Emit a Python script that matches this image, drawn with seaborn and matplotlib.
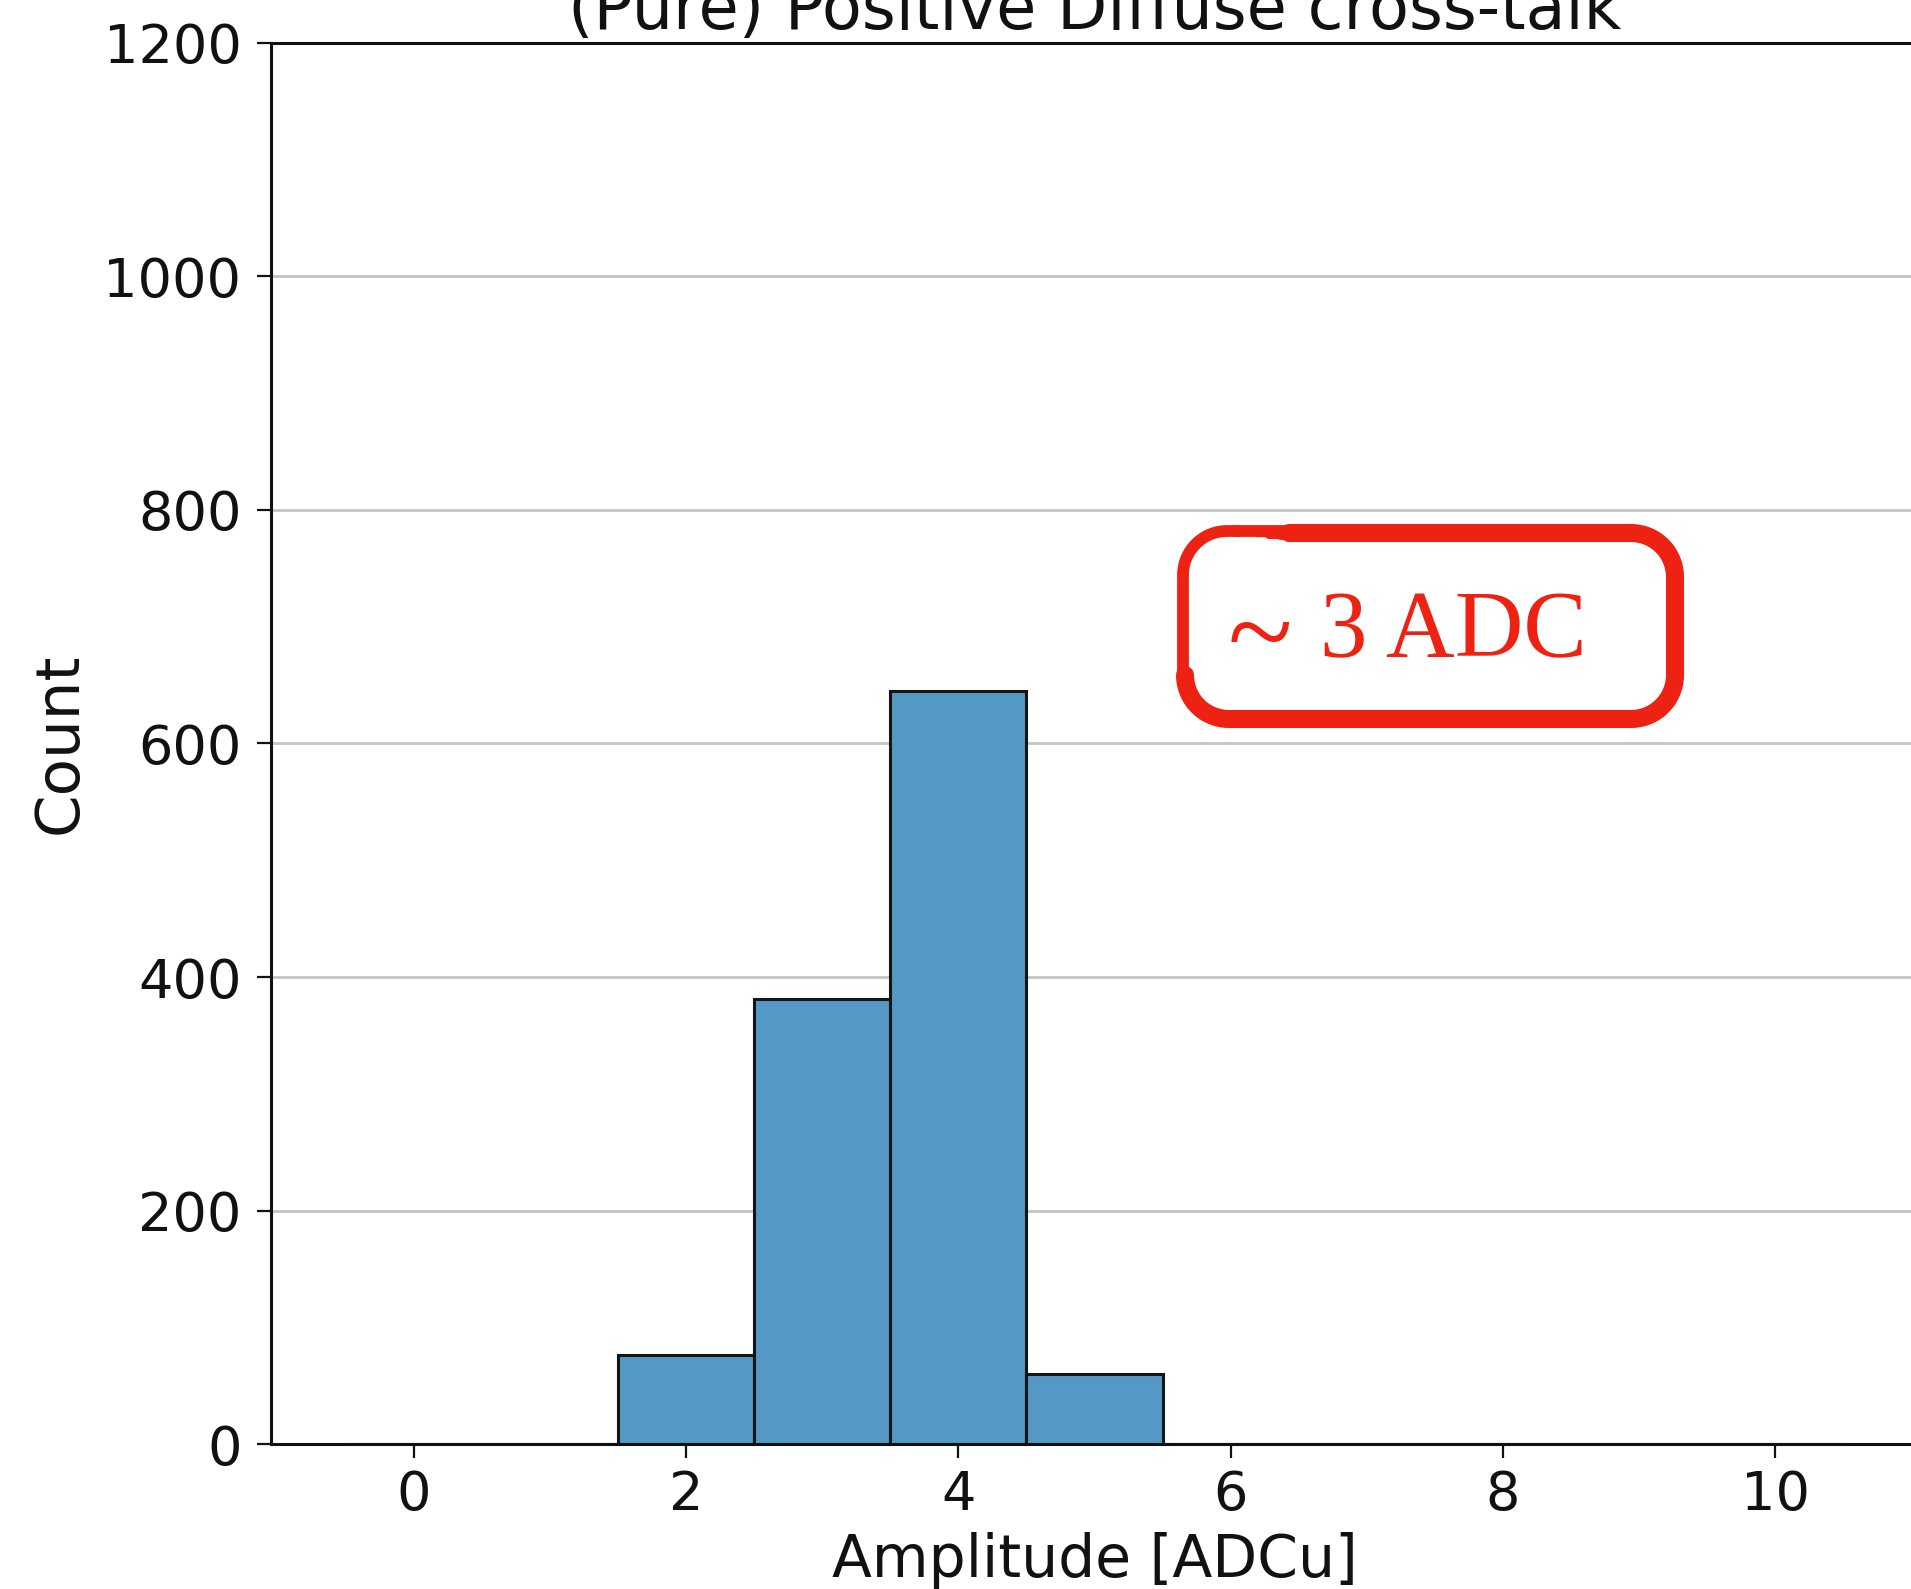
import numpy as np
import matplotlib
matplotlib.use("Agg")
import matplotlib.pyplot as plt
from matplotlib.lines import Line2D
import seaborn as sns

# Histogram of pure positive diffuse cross-talk amplitudes (one bin per ADC unit)
amplitude_bins = [0, 1, 2, 3, 4, 5, 6, 7, 8, 9, 10]
bin_counts = [0, 0, 76, 381, 645, 60, 0, 0, 0, 0, 0]
x_ticks = [0, 2, 4, 6, 8, 10]
y_ticks = [0, 200, 400, 600, 800, 1000, 1200]
title_text = "(Pure) Positive Diffuse cross-talk"
x_label = "Amplitude [ADCu]"
y_label = "Count"
note_text = "3 ADC"

W, H, DPI = 1911, 1589, 100
fig = plt.figure(figsize=(W / DPI, H / DPI), dpi=DPI)
fig.patch.set_facecolor("white")

# axes placed in pixel terms (left, top, right, bottom)
L, T, R, B = 270.6, 42.7, 1918.3, 1444.2
ax = fig.add_axes([L / W, 1 - B / H, (R - L) / W, (B - T) / H])

sns.histplot(x=amplitude_bins, weights=bin_counts, discrete=True, ax=ax,
             color="#5499c5", alpha=1.0, edgecolor="#151515", linewidth=2.2)

ax.set_xlim(-1.05, 11.05)
ax.set_ylim(0, 1200)
ax.set_xticks(x_ticks)
ax.set_yticks(y_ticks)
ax.yaxis.grid(True, color="#c4c4c4", linewidth=2.0)
ax.xaxis.grid(False)
ax.set_axisbelow(True)

for s in ax.spines.values():
    s.set_linewidth(2.2)
    s.set_color("#111111")

ax.tick_params(axis="both", length=10, width=1.6, labelsize=39, colors="#111111")
ax.tick_params(axis="x", pad=8)
ax.tick_params(axis="y", pad=11)

ax.set_xlabel(x_label, fontsize=42, labelpad=8, color="#111111")
ax.set_ylabel(y_label, fontsize=44, labelpad=10, color="#111111")
ax.set_title(title_text, fontsize=47, pad=4, color="#111111")

# red hand-drawn style callout
red = "#ee2212"
N = 20


def px(x, y):
    return x / W, 1 - y / H


def rounded_path(x0, y0, x1, y1, r, start_off):
    # clockwise in screen space, starting on the top edge
    pts = [(x0 + r + start_off, y0), (x1 - r, y0)]
    for a in np.linspace(-np.pi / 2, 0, N):
        pts.append((x1 - r + r * np.cos(a), y0 + r + r * np.sin(a)))
    pts.append((x1, y1 - r))
    for a in np.linspace(0, np.pi / 2, N):
        pts.append((x1 - r + r * np.cos(a), y1 - r + r * np.sin(a)))
    pts.append((x0 + r, y1))
    for a in np.linspace(np.pi / 2, np.pi, N):
        pts.append((x0 + r + r * np.cos(a), y1 - r + r * np.sin(a)))
    pts.append((x0, y0 + r))
    for a in np.linspace(np.pi, 1.5 * np.pi, N):
        pts.append((x0 + r + r * np.cos(a), y0 + r + r * np.sin(a)))
    pts.append((x0 + r + start_off, y0))
    return pts


def draw(pts, lw, cap="round"):
    fx, fy = zip(*[px(x, y) for x, y in pts])
    fig.add_artist(Line2D(fx, fy, transform=fig.transFigure, color=red, lw=lw,
                          solid_capstyle=cap, solid_joinstyle="round"))


# medium full outline (left side stays at this weight)
draw(rounded_path(1183, 531, 1677, 721, 44, 10), 8.5)
# faint second pass on the upper-left corner
draw(rounded_path(1180, 528, 1677, 721, 46, 10)[-N - 8:], 2.0)
# heavy stroke over top, right and bottom into the lower-left corner
heavy = rounded_path(1185, 533, 1675, 719, 44, 60)[:4 + 3 * N]
draw(heavy, 13.0, cap="round")
# tapered lead-in of the heavy stroke along the top edge
for i, w in enumerate([4, 6, 8, 10, 12]):
    xa = 1245 + i * 12
    draw([(xa, 532.5), (xa + 14, 532.5)], w, cap="round")

fig.text(px(1228, 0)[0], px(0, 642)[1], "~", color=red, fontsize=86,
         family="Liberation Serif", ha="left", va="center")
fig.text(px(1320, 0)[0], px(0, 634)[1], note_text, color=red, fontsize=68.5,
         family="Liberation Serif", ha="left", va="center")

fig.savefig("out.png", dpi=DPI, facecolor="white")
